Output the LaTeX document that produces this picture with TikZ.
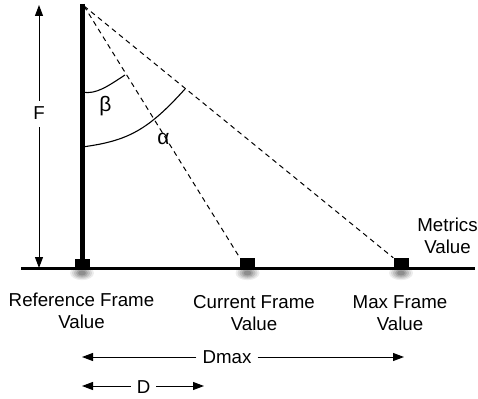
\documentclass[tikz,border=0pt]{standalone}
\usepackage{fontspec}
\setmainfont{Liberation Sans}
\usetikzlibrary{arrows.meta}
\begin{document}
\begin{tikzpicture}[x=1pt,y=-1pt,
  lbl/.style={font=\fontsize{18.7}{22}\selectfont, align=center, inner sep=0pt},
  greek/.style={font=\fontsize{21}{24}\selectfont, inner sep=0pt},
  sq/.style={draw=none, fill=black, minimum width=15pt, minimum height=11pt, inner sep=0pt},
  dsh/.style={line width=1pt, dash pattern=on 5pt off 4pt},
  arr/.style={line width=1pt, -{Triangle[length=11pt,width=8pt]}},
  arcline/.style={line width=1.1pt}]
\useasboundingbox (0,0) rectangle (478,398);
% shadows under squares
\foreach \cx in {82,247.5,401}{
  \foreach \r/\o in {12/0.07,10/0.09,8/0.11,6/0.13,4/0.15}{
    \fill[black,opacity=\o] (\cx,273) ellipse [x radius=\r pt, y radius=0.6*\r pt];
  }
}
% coordinates
\coordinate (apex) at (82.5,4);
\coordinate (apexd) at (84,6);
\coordinate (base) at (82.5,268.5);
\coordinate (bl) at (21,268.5);
\coordinate (br) at (475,268.5);
% baseline and pole
\draw[line width=3.5pt] (bl) -- (br);
\draw[line width=4.3pt] (apex) -- (base);
% squares
\node[sq] (ref) at (82,264) {};
\node[sq] (cur) at (247.5,263.5) {};
\node[sq] (max) at (401,263.5) {};
% dashed lines
\draw[dsh] (apexd) -- (cur.north west);
\draw[dsh] (apexd) -- (max.north west);
% angle arcs
\coordinate (b0) at (82,92);
\coordinate (b1) at (125,75);
\coordinate (a0) at (82,147);
\coordinate (a1) at (185,89);
\draw[arcline] (b0) .. controls (96,95) and (108,86) .. (b1);
\draw[arcline] (a0) .. controls (128,141) and (148,130) .. (a1);
\node[greek, anchor=base] (beta) at (105.5,112) {β};
\node[greek, anchor=base] (alpha) at (163.5,145) {α};
% F arrow
\node[lbl, anchor=base] (F) at (39,120) {F};
\coordinate (Ftop) at (39,5);
\coordinate (Fbot) at (39,268);
\draw[arr] (F.north) ++(0,-6) -- (Ftop);
\draw[arr] (F.south) ++(0,7) -- (Fbot);
% labels (base anchor = baseline of the last line)
\node[lbl, anchor=base] (reflbl) at (81.5,328) {Reference Frame\\Value};
\node[lbl, anchor=base] (curlbl) at (254,330) {Current Frame\\Value};
\node[lbl, anchor=base] (maxlbl) at (400,330) {Max Frame\\Value};
\node[lbl, anchor=base] (metlbl) at (447.5,253) {Metrics\\Value};
% Dmax arrow
\node[lbl, anchor=base] (dmax) at (227,363) {Dmax};
\coordinate (dmaxl) at (82,357);
\coordinate (dmaxr) at (404,357);
\draw[arr] (dmax.west |- dmaxl) ++(-6,0) -- (dmaxl);
\draw[arr] (dmax.east |- dmaxr) ++(6,0) -- (dmaxr);
% D arrow
\node[lbl, anchor=base] (d) at (143.5,393) {D};
\coordinate (dl) at (82,386);
\coordinate (dr) at (204,386);
\draw[arr] (d.west |- dl) ++(-6,0) -- (dl);
\draw[arr] (d.east |- dr) ++(6,0) -- (dr);
\end{tikzpicture}
\end{document}
